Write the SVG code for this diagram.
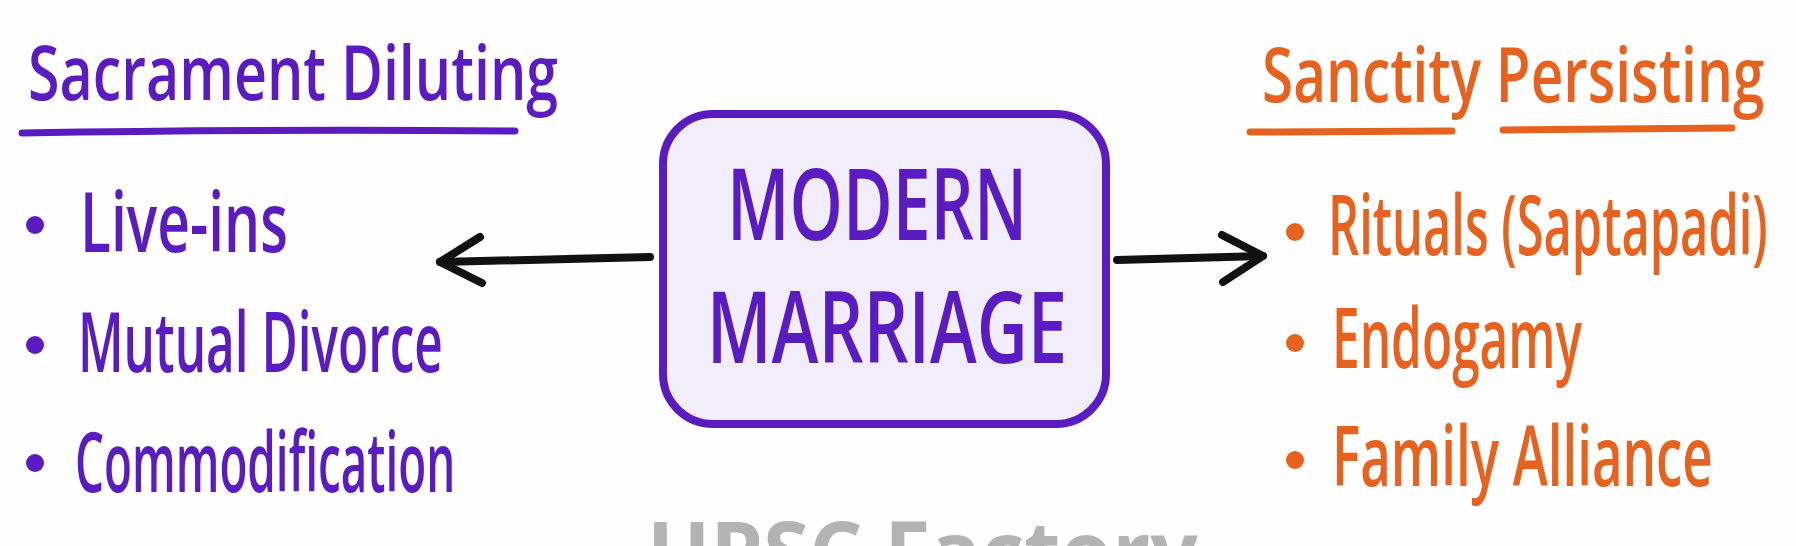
<svg xmlns="http://www.w3.org/2000/svg" width="1796" height="546" viewBox="0 0 1796 546">
<style>
.pur{fill:#5a1cc0;font-family:"Open Sans","Noto Sans",sans-serif;font-weight:600}
.org{fill:#e8621f;font-family:"Open Sans","Noto Sans",sans-serif;font-weight:600}
.ttl{font-size:76px}
.itm{font-size:84px}
.ctr{font-size:100px;text-anchor:middle}
.ulp{stroke:#5a1cc0;stroke-width:7;fill:none;stroke-linecap:round}
.ulo{stroke:#e8621f;stroke-width:7;fill:none;stroke-linecap:round}
.arr{stroke:#111;stroke-width:8;fill:none;stroke-linecap:round;stroke-linejoin:round}
.wm{fill:#b3b3b3;font-family:"Open Sans","Noto Sans",sans-serif;font-weight:700;font-size:84px}
</style>
<rect width="1796" height="546" fill="#fefefe"/>
<g id="left-list">
  <text class="pur ttl" transform="translate(28,100) scale(0.79,1)" x="0" y="0" textLength="671" lengthAdjust="spacingAndGlyphs">Sacrament Diluting</text>
  <path class="ulp" d="M22,133 Q260,129 515,131"/>
  <circle cx="35" cy="225" r="9" fill="#5a1cc0"/>
  <text class="pur itm" transform="translate(80,252) scale(0.7,1)" x="0" y="0" textLength="297" lengthAdjust="spacingAndGlyphs">Live-ins</text>
  <circle cx="35" cy="345" r="9" fill="#5a1cc0"/>
  <text class="pur itm" transform="translate(78,372) scale(0.61,1)" x="0" y="0" textLength="598" lengthAdjust="spacingAndGlyphs">Mutual Divorce</text>
  <circle cx="35" cy="463" r="9" fill="#5a1cc0"/>
  <text class="pur itm" transform="translate(75,492) scale(0.565,1)" x="0" y="0" textLength="673" lengthAdjust="spacingAndGlyphs">Commodification</text>
</g>
<g id="center-node">
  <rect x="663" y="114" width="443" height="310" rx="50" ry="50" fill="#f2edfb" stroke="#5a1cc0" stroke-width="8"/>
  <text class="pur ctr" transform="translate(877,240) scale(0.69,1)" x="0" y="0" textLength="435" lengthAdjust="spacingAndGlyphs">MODERN</text>
  <text class="pur ctr" transform="translate(887,363) scale(0.725,1)" x="0" y="0" textLength="497" lengthAdjust="spacingAndGlyphs">MARRIAGE</text>
</g>
<g id="right-list">
  <text class="org ttl" transform="translate(1262,102) scale(0.78,1)" x="0" y="0" textLength="644" lengthAdjust="spacingAndGlyphs">Sanctity Persisting</text>
  <path class="ulo" d="M1250,132 L1452,131"/>
  <path class="ulo" d="M1503,130 L1732,128"/>
  <circle cx="1295" cy="232" r="9" fill="#e8621f"/>
  <text class="org itm" transform="translate(1328,255) scale(0.6,1)" x="0" y="0" textLength="733" lengthAdjust="spacingAndGlyphs">Rituals (Saptapadi)</text>
  <circle cx="1295" cy="343" r="9" fill="#e8621f"/>
  <text class="org itm" transform="translate(1332,368) scale(0.61,1)" x="0" y="0" textLength="410" lengthAdjust="spacingAndGlyphs">Endogamy</text>
  <circle cx="1295" cy="460" r="9" fill="#e8621f"/>
  <text class="org itm" transform="translate(1332,486) scale(0.66,1)" x="0" y="0" textLength="577" lengthAdjust="spacingAndGlyphs">Family Alliance</text>
</g>
<g id="connectors">
  <path class="arr" d="M650,257 L440,262"/>
  <path class="arr" d="M480,237 L440,262 L482,283"/>
  <path class="arr" d="M1117,260 L1263,256"/>
  <path class="arr" d="M1222,235 L1263,256 L1223,282"/>
</g>
<g id="watermark">
  <text class="wm" x="647" y="582" textLength="551" lengthAdjust="spacingAndGlyphs">UPSC Factory</text>
</g>
</svg>
